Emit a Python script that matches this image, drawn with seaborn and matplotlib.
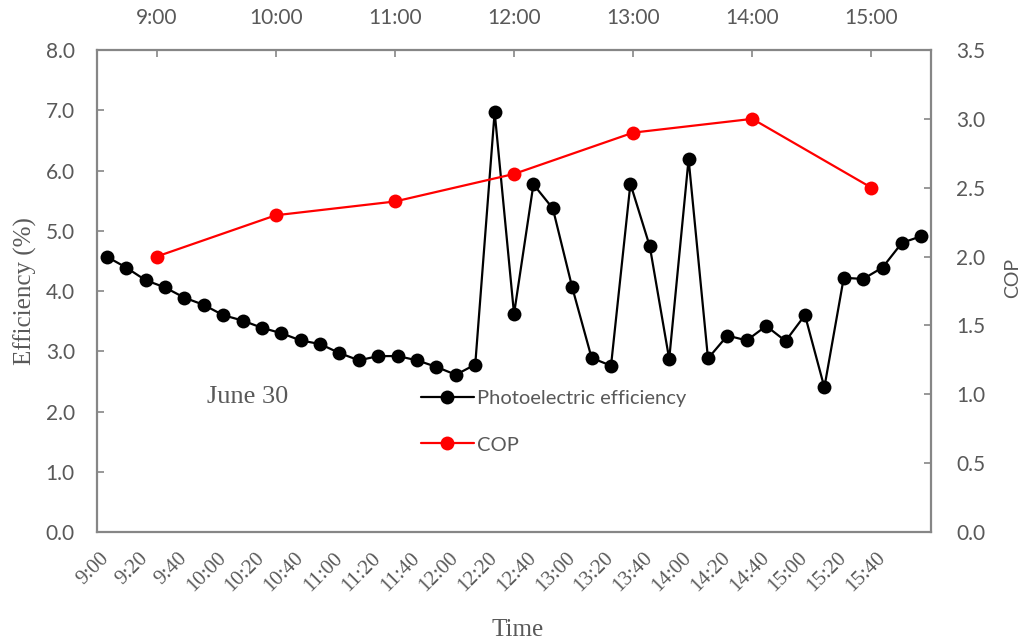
import numpy as np
import pandas as pd
import matplotlib
matplotlib.use("Agg")
import matplotlib.pyplot as plt
from matplotlib.ticker import FixedLocator, FormatStrFormatter
import seaborn as sns

# ---- data -------------------------------------------------------------
# photoelectric efficiency, one reading every 10 minutes from 9:00 to 16:00
eff_times = [f"{h}:{m:02d}" for h in range(9, 16) for m in range(0, 60, 10)] + ["16:00"]
efficiency = [4.57, 4.39, 4.18, 4.06, 3.89, 3.77, 3.60, 3.51, 3.39, 3.30,
              3.18, 3.12, 2.97, 2.85, 2.92, 2.92, 2.85, 2.74, 2.61, 2.78,
              6.97, 3.62, 5.77, 5.37, 4.06, 2.89, 2.76, 5.78, 4.74, 2.87,
              6.19, 2.88, 3.26, 3.18, 3.42, 3.17, 3.60, 2.40, 4.22, 4.20,
              4.39, 4.80, 4.91]

# hourly coefficient of performance
cop_times = ["9:00", "10:00", "11:00", "12:00", "13:00", "14:00", "15:00"]
cop = [2.0, 2.3, 2.4, 2.6, 2.9, 3.0, 2.5]

eff_df = pd.DataFrame({"pos": np.arange(len(efficiency)), "Efficiency": efficiency})
cop_df = pd.DataFrame({"pos": np.arange(len(cop)), "COP": cop})

# ---- style ------------------------------------------------------------
sns.set_style("white")
SANS = ["Lato", "DejaVu Sans"]
SERIF = ["Liberation Serif", "DejaVu Serif"]
plt.rcParams["font.family"] = SANS
TXT = "#595959"
SPINE = "#868686"

fig = plt.figure(figsize=(10.29, 6.41), dpi=100)
rect = [0.0943, 0.170, 0.8105, 0.752]
ax = fig.add_axes(rect)
ax2 = fig.add_axes(rect, frameon=False)

sns.lineplot(data=eff_df, x="pos", y="Efficiency", ax=ax, color="black",
             marker="o", markersize=10, markeredgewidth=0, linewidth=1.6,
             label="Photoelectric efficiency", legend=False)
sns.lineplot(data=cop_df, x="pos", y="COP", ax=ax2, color="#ff0000",
             marker="o", markersize=10, markeredgewidth=0, linewidth=1.6,
             label="COP", legend=False)

# primary axes: bottom category axis + left efficiency axis
ax.set_xlim(-0.5, len(efficiency) - 0.5)
ax.set_ylim(0, 8)
ax.yaxis.set_major_locator(FixedLocator(np.arange(0, 8.01, 1)))
ax.yaxis.set_major_formatter(FormatStrFormatter("%.1f"))
label_pos = np.arange(0, 41, 2)
ax.set_xticks(label_pos)
ax.set_xticklabels([eff_times[i] for i in label_pos])
ax.set_xticks(np.arange(0.5, len(efficiency) - 1, 1), minor=True)
ax.tick_params(axis="x", which="major", length=0, pad=17)
ax.tick_params(axis="x", which="minor", direction="in", length=5,
               width=1.2, color=SPINE)
ax.tick_params(axis="y", direction="in", length=5, width=1.2, color=SPINE,
               labelsize=15, labelcolor=TXT, pad=16, left=True)
for lab in ax.get_xticklabels():
    lab.set_rotation(45)
    lab.set_rotation_mode("anchor")
    lab.set_ha("right")
    lab.set_va("center")
    lab.set_family(SERIF)
    lab.set_fontsize(15)
    lab.set_color(TXT)
for sp in ax.spines.values():
    sp.set_color(SPINE)
    sp.set_linewidth(1.6)
ax.set_xlabel("Time", family=SERIF, fontsize=18, color=TXT)
ax.xaxis.set_label_coords(0.504, -0.181)
ax.set_ylabel("Efficiency (%)", family=SERIF, fontsize=18, color=TXT)
ax.yaxis.set_label_coords(-0.072, 0.5)

# secondary axes: top hourly axis + right COP axis
ax2.set_xlim(-0.5, len(cop) - 0.5)
ax2.set_ylim(0, 3.5)
ax2.xaxis.tick_top()
ax2.yaxis.tick_right()
ax2.yaxis.set_label_position("right")
ax2.set_xticks(np.arange(len(cop)))
ax2.set_xticklabels(cop_times)
ax2.yaxis.set_major_locator(FixedLocator(np.arange(0, 3.51, 0.5)))
ax2.yaxis.set_major_formatter(FormatStrFormatter("%.1f"))
ax2.tick_params(axis="x", direction="in", length=5, width=1.2, color=SPINE,
                labelsize=15, labelcolor=TXT, pad=16, top=True, bottom=False)
ax2.tick_params(axis="y", direction="in", length=5, width=1.2, color=SPINE,
                labelsize=15, labelcolor=TXT, pad=18, right=True, left=False)
ax2.set_xlabel("")
ax2.set_ylabel("COP", fontsize=14, color=TXT)
ax2.yaxis.set_label_coords(1.088, 0.527)

ax.text(0.132, 0.28, "June 30", transform=ax.transAxes, family=SERIF,
        fontsize=19, color=TXT, ha="left", va="center")

handles = ax.get_lines()[:1] + ax2.get_lines()[:1]
leg = ax2.legend(handles, ["Photoelectric efficiency", "COP"],
                 loc="upper left", bbox_to_anchor=(0.367, 0.332),
                 frameon=False, fontsize=14.5, labelcolor=TXT,
                 handlelength=2.6, handletextpad=0.15, labelspacing=1.45)

fig.savefig("out.png", dpi=100)
